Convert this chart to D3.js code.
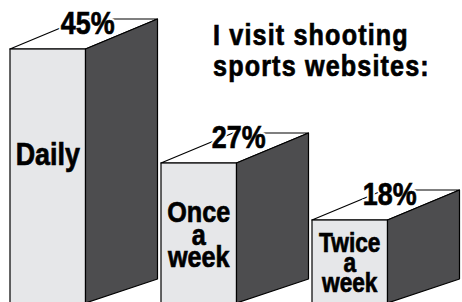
<!DOCTYPE html>
<html>
<head>
<meta charset="utf-8">
<script src="https://cdn.jsdelivr.net/npm/d3@7/dist/d3.min.js"></script>
<style>
body { margin: 0; background: #fff; }
</style>
</head>
<body>
<div class="chart"></div>
<script>
var categories = ['Daily', 'Once a week', 'Twice a week'];
var values = [45, 27, 18];
var valueLabels = ['45%', '27%', '18%'];
var barLabelLines = [['Daily'], ['Once', 'a', 'week'], ['Twice', 'a', 'week']];
var titleLines = ['I visit shooting', 'sports websites:'];

var width = 462, height = 302;
var depthX = 72, depthY = -30, bottomRise = -24;
var floorY = 303;
var frontColor = '#e6e7e9', sideColor = '#4d4d4f', lineColor = '#000';
var font = '"Liberation Sans", Arial, sans-serif';
var squeeze = 0.84; // condensed look: bold sans pressed sideways
// where the words inside each front face sit
var labelBaseline = [165, 222, 252];
var labelLineHeight = [0, 22.5, 20];
var labelFontSize = [32, 30, 27];

var svg = d3.select('.chart')
	.append('svg')
	.attr('width', width)
	.attr('height', height);

var x = d3.scaleBand()
	.domain(categories)
	.range([10, 387.5])
	.paddingInner(0.5)
	.paddingOuter(0);
var y = d3.scaleLinear()
	.domain([0, 45])
	.range([334, 49]);
var bw = x.bandwidth();

// heavy condensed text: bold sans squeezed sideways with a thin outline
function condensed(sel, tx, ty, size){
	return sel.append('text')
		.attr('transform', 'translate(' + tx + ',' + ty + ') scale(' + squeeze + ',1)')
		.attr('font-family', font)
		.attr('font-weight', 'bold')
		.attr('font-size', size)
		.attr('fill', '#000')
		.attr('stroke', '#000')
		.attr('stroke-width', 0.7);
}

var bars = svg.selectAll('g.bar')
	.data(categories)
	.enter()
	.append('g')
	.attr('class', 'bar');

// top face
bars.append('polygon')
	.attr('points', function(d, i){
		var x0 = x(d), x1 = x0 + bw, yt = y(values[i]);
		return [[x0, yt], [x1, yt], [x1 + depthX, yt + depthY], [x0 + depthX, yt + depthY]].join(' ');
	})
	.attr('fill', '#fff')
	.attr('stroke', lineColor)
	.attr('stroke-width', 1.2)
	.attr('stroke-linejoin', 'round');

// front face
bars.append('rect')
	.attr('x', function(d){ return x(d); })
	.attr('y', function(d, i){ return y(values[i]); })
	.attr('width', bw)
	.attr('height', function(d, i){ return floorY + 5 - y(values[i]); })
	.attr('fill', frontColor)
	.attr('stroke', lineColor)
	.attr('stroke-width', 1.2);

// side face
bars.append('polygon')
	.attr('points', function(d, i){
		var x1 = x(d) + bw, yt = y(values[i]);
		return [[x1, yt], [x1 + depthX, yt + depthY], [x1 + depthX, floorY + bottomRise], [x1, floorY]].join(' ');
	})
	.attr('fill', sideColor)
	.attr('stroke', lineColor)
	.attr('stroke-width', 1.2)
	.attr('stroke-linejoin', 'round');

// words inside the front faces
bars.each(function(d, i){
	var g = d3.select(this);
	barLabelLines[i].forEach(function(line, j){
		condensed(g, x(d) + bw / 2, labelBaseline[i] + j * labelLineHeight[i], labelFontSize[i])
			.attr('text-anchor', 'middle')
			.text(line);
	});
});

// value labels: a white halo knocks out the top-face lines behind them
bars.each(function(d, i){
	var tx = x(d) + bw / 2 + depthX / 2 + 4, ty = y(values[i]) - 15;
	condensed(d3.select(this), tx, ty, 32)
		.attr('text-anchor', 'middle')
		.attr('fill', '#fff')
		.attr('stroke', '#fff')
		.attr('stroke-width', 5)
		.text(valueLabels[i]);
	condensed(d3.select(this), tx, ty, 32)
		.attr('text-anchor', 'middle')
		.text(valueLabels[i]);
});

titleLines.forEach(function(line, i){
	condensed(svg, 213, 45 + i * 31, 30)
		.attr('letter-spacing', 1.35)
		.text(line);
});
</script>
</body>
</html>
